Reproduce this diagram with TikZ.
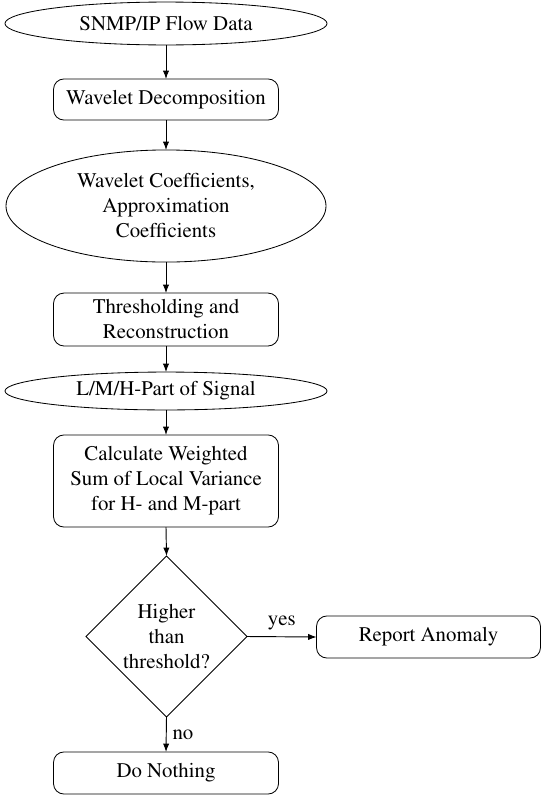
\documentclass[tikz,border=0pt]{standalone}
\usepackage[T1]{fontenc}
\usepackage{mathptmx}
\usetikzlibrary{shapes.geometric,arrows.meta}
\begin{document}
\begin{tikzpicture}[x=0.48pt,y=-0.48pt,
  font=\fontsize{10pt}{12pt}\selectfont,
  every node/.style={inner sep=0pt, outer sep=0pt, align=center},
  data/.style={draw, ellipse, minimum width=154.6pt},
  proc/.style={draw, rectangle, rounded corners=5pt, minimum width=108pt},
  decision/.style={draw, diamond, minimum width=77.3pt, minimum height=77.3pt, aspect=1},
  flow/.style={-{Latex[length=4pt,width=3pt]}, line width=0.45pt}]
  \useasboundingbox (0,0) rectangle (541,796);

  % main chain of steps
  \node[data, minimum height=20.6pt] (src) at (166,23.5) {SNMP/IP Flow Data};
  \node[proc, minimum height=19.7pt] (wd) at (166,99.5) {Wavelet Decomposition};
  \node[data, minimum width=153.6pt, minimum height=53.8pt] (coef) at (166,206)
    {Wavelet Coefficients,\\ Approximation\\ Coefficients};
  \node[proc, minimum height=25.4pt] (thr) at (166,319.5) {Thresholding and\\ Reconstruction};
  \node[data, minimum height=18.2pt] (lmh) at (166,391) {L/M/H-Part of Signal};
  \node[proc, minimum height=44.2pt] (calc) at (166,481)
    {Calculate Weighted\\ Sum of Local Variance\\ for H- and M-part};
  \node[decision] (dec) at (166.5,636.5) {Higher\\ than\\ threshold?};
  \node[proc, minimum width=107.5pt, minimum height=20.2pt] (rep) at (428.5,637) {Report Anomaly};
  \node[proc, minimum height=20.2pt] (none) at (166,773) {Do Nothing};

  % connectors
  \draw[flow] (src) -- (wd);
  \draw[flow] (wd) -- (coef);
  \draw[flow] (coef) -- (thr);
  \draw[flow] (thr) -- (lmh);
  \draw[flow] (lmh) -- (calc);
  \draw[flow] (calc.south) -- (dec.north);
  \draw[flow] (dec.east) -- node[above=3pt] {yes} (rep.west);
  \draw[flow] (dec.south) -- node[right=3pt] {no} (none.north);
\end{tikzpicture}
\end{document}
